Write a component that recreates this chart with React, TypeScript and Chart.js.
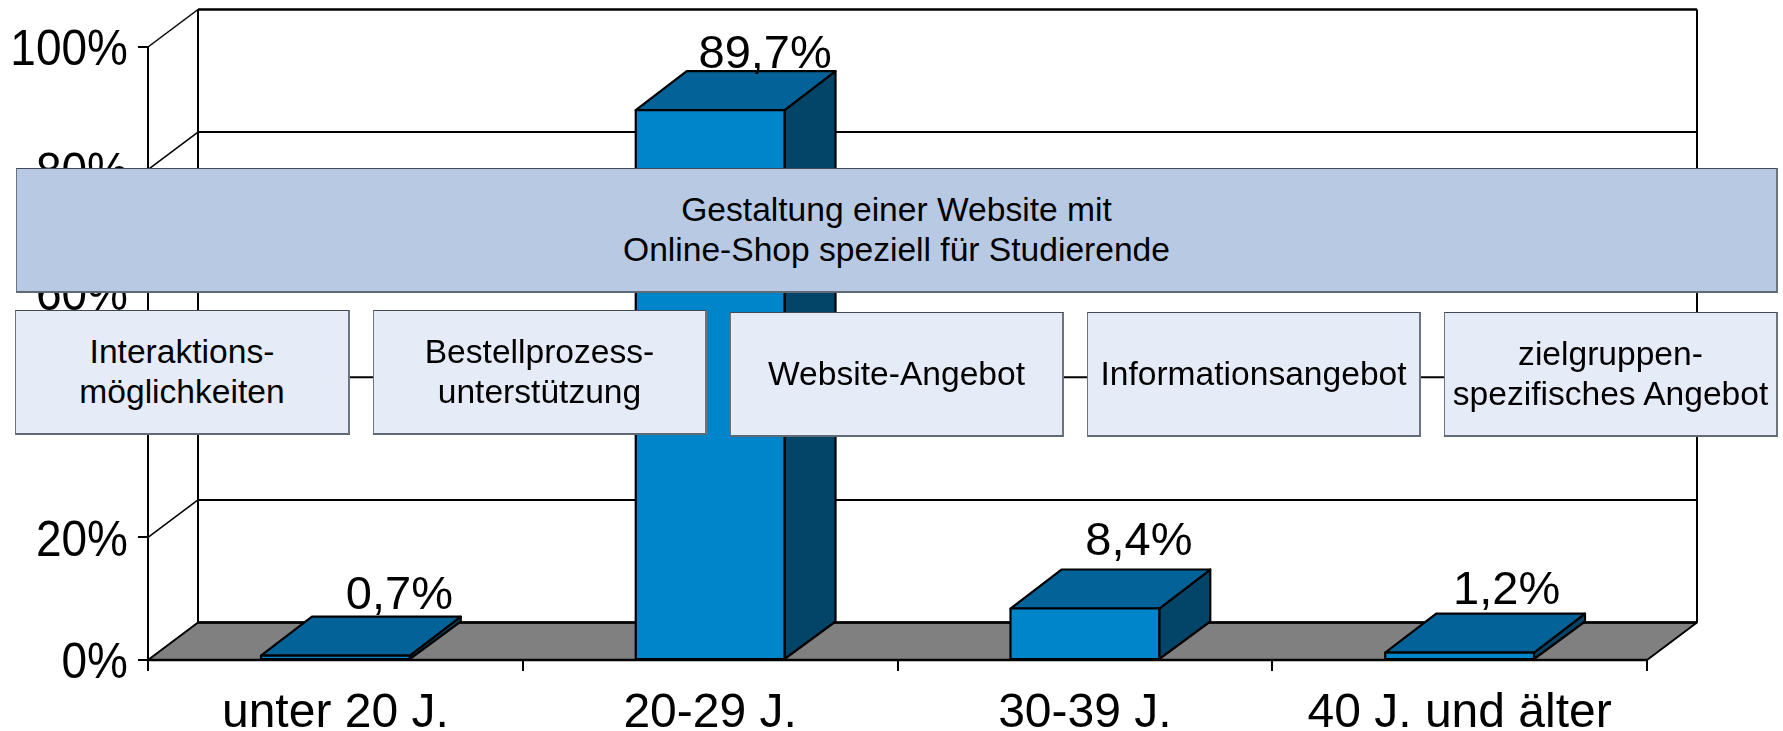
import React, { useEffect, useRef } from "react";
import { Chart, registerables } from "chart.js";

Chart.register(...registerables);

const categories = ["unter 20 J.", "20-29 J.", "30-39 J.", "40 J. und älter"];
const shares = [0.7, 89.7, 8.4, 1.2];
const yTicks = [0, 20, 40, 60, 80, 100];

const FONT = '"Liberation Sans", Arial, sans-serif';
const DEPTH_X = 50;
const DEPTH_Y = 37.5;
const BAR_DEPTH_X = 51;
const BAR_DEPTH_Y = 39;
const labelOffsets = [
  [64, -60],
  [55, -55],
  [54, -66],
  [47, -62],
];

const banner = { text: ["Gestaltung einer Website mit", "Online-Shop speziell für Studierende"], x: 16, y: 168, w: 1762, h: 125 };
const boxes = [
  { text: ["Interaktions-", "möglichkeiten"], x: 15, y: 310, w: 335, h: 125 },
  { text: ["Bestellprozess-", "unterstützung"], x: 373, y: 310, w: 334, h: 125 },
  { text: ["Website-Angebot"], x: 730, y: 312, w: 334, h: 125 },
  { text: ["Informationsangebot"], x: 1087, y: 312, w: 334, h: 125 },
  { text: ["zielgruppen-", "spezifisches Angebot"], x: 1444, y: 312, w: 334, h: 125 },
];

const poly = (ctx: CanvasRenderingContext2D, pts: number[][], fill: string | null, stroke = "#000", lw = 2.2) => {
  ctx.beginPath();
  pts.forEach(([x, y], i) => (i ? ctx.lineTo(x, y) : ctx.moveTo(x, y)));
  ctx.closePath();
  if (fill) {
    ctx.fillStyle = fill;
    ctx.fill();
  }
  ctx.lineWidth = lw;
  ctx.strokeStyle = stroke;
  ctx.lineJoin = "round";
  ctx.stroke();
};

const line = (ctx: CanvasRenderingContext2D, x1: number, y1: number, x2: number, y2: number, lw = 2) => {
  ctx.beginPath();
  ctx.moveTo(x1, y1);
  ctx.lineTo(x2, y2);
  ctx.lineWidth = lw;
  ctx.strokeStyle = "#000";
  ctx.stroke();
};

const walls = {
  id: "walls",
  beforeDatasetsDraw(chart: any) {
    const { ctx, chartArea: a, scales } = chart;
    const y = scales.y;
    ctx.save();
    const bx = a.left + DEPTH_X;
    const rx = a.right + DEPTH_X;
    yTicks.forEach((t) => {
      const py = y.getPixelForValue(t);
      if (t > 0) line(ctx, bx, py - DEPTH_Y, rx, py - DEPTH_Y, t === 100 ? 2.5 : 2);
      if (t > 0) line(ctx, a.left, py, bx, py - DEPTH_Y, 1.5);
    });
    line(ctx, a.left, a.top, a.left, a.bottom, 2);
    line(ctx, bx, a.top - DEPTH_Y, bx, a.bottom - DEPTH_Y, 2);
    line(ctx, rx, a.top - DEPTH_Y, rx, a.bottom - DEPTH_Y, 2);
    poly(ctx, [[a.left, a.bottom], [bx, a.bottom - DEPTH_Y], [rx, a.bottom - DEPTH_Y], [a.right, a.bottom]], "#808080", "#000", 2);
    line(ctx, a.left, a.bottom, a.right, a.bottom, 2.5);
    line(ctx, bx, a.bottom - DEPTH_Y, rx, a.bottom - DEPTH_Y, 2.5);
    ctx.restore();
  },
};

const bars3d = {
  id: "bars3d",
  afterDatasetsDraw(chart: any) {
    const { ctx } = chart;
    const meta = chart.getDatasetMeta(0);
    ctx.save();
    meta.data.forEach((el: any) => {
      const l = el.x - el.width / 2;
      const r = el.x + el.width / 2;
      const t = el.y;
      const b = el.base;
      const dx = BAR_DEPTH_X;
      const dy = BAR_DEPTH_Y;
      poly(ctx, [[r, t], [r + dx, t - dy], [r + dx, b - DEPTH_Y], [r, b]], "#034569");
      poly(ctx, [[l, t], [l + dx, t - dy], [r + dx, t - dy], [r, t]], "#036399");
      poly(ctx, [[l, t], [r, t], [r, b], [l, b]], "#0085CB");
    });
    ctx.restore();
  },
};

const textLabels = {
  id: "textLabels",
  afterDraw(chart: any) {
    const { ctx, scales } = chart;
    const meta = chart.getDatasetMeta(0);
    ctx.save();
    ctx.fillStyle = "#000";
    ctx.textBaseline = "middle";
    ctx.textAlign = "center";
    ctx.font = `47px ${FONT}`;
    meta.data.forEach((el: any, i: number) => {
      const text = shares[i].toFixed(1).replace(".", ",") + "%";
      ctx.fillText(text, el.x + labelOffsets[i][0], el.y + labelOffsets[i][1]);
    });
    ctx.textAlign = "right";
    ctx.font = `46px ${FONT}`;
    scales.y.ticks.forEach((tick: any, i: number) => {
      ctx.save();
      ctx.translate(128, scales.y.getPixelForTick(i) + 4.5);
      ctx.scale(1, 1.08);
      ctx.fillText(tick.label, 0, 0);
      ctx.restore();
    });
    ctx.restore();
  },
};

function Box({ b, fill }: { b: typeof banner; fill: string }) {
  return (
    <div
      style={{
        position: "absolute",
        left: b.x,
        top: b.y,
        width: b.w,
        height: b.h,
        boxSizing: "border-box",
        background: fill,
        borderStyle: "solid",
        borderWidth: "1px 2px 2px 1px",
        borderColor: "#3f4a55 #6b7480 #5f6a75 #6b7480",
        display: "flex",
        flexDirection: "column",
        justifyContent: "center",
        alignItems: "center",
        fontFamily: FONT,
        fontSize: 33.6,
        lineHeight: "40px",
        color: "#000",
        whiteSpace: "nowrap",
      }}
    >
      {b.text.map((t) => (
        <div key={t}>{t}</div>
      ))}
    </div>
  );
}

export default function App() {
  const ref = useRef<HTMLCanvasElement>(null);
  useEffect(() => {
    const chart = new Chart(ref.current!, {
      type: "bar",
      data: {
        labels: categories,
        datasets: [
          {
            data: shares,
            backgroundColor: "#0085CB",
            borderWidth: 0,
            categoryPercentage: 0.397,
            barPercentage: 1,
          },
        ],
      },
      options: {
        animation: false,
        responsive: false,
        layout: { padding: { top: 47, right: 136, bottom: 0, left: 0 } },
        plugins: { legend: { display: false }, tooltip: { enabled: false } },
        scales: {
          x: {
            grid: { drawOnChartArea: false, color: "#000", lineWidth: 2, tickLength: 11 },
            border: { display: false },
            ticks: { color: "#000", font: { family: FONT, size: 48 }, padding: 14, maxRotation: 0 },
            afterFit(s: any) {
              s.height = 71;
            },
          },
          y: {
            min: 0,
            max: 100,
            grid: { drawOnChartArea: false, color: "#000", lineWidth: 2, tickLength: 10 },
            border: { display: false },
            afterFit(s: any) {
              s.width = 148;
            },
            ticks: {
              stepSize: 20,
              color: "rgba(0,0,0,0)",
              padding: 10,
              font: { family: FONT, size: 44 },
              callback: (v: any) => `${v}%`,
            },
          },
        },
      },
      plugins: [walls, bars3d, textLabels],
    } as any);
    return () => chart.destroy();
  }, []);
  return (
    <div style={{ position: "absolute", left: 0, top: 0, width: 1783, height: 731, overflow: "hidden", background: "#fff" }}>
      <canvas ref={ref} width={1783} height={731} style={{ position: "absolute", left: 0, top: 0, display: "block" }} />
      <Box b={banner} fill="#B8C9E3" />
      {boxes.map((b) => (
        <Box key={b.text[0]} b={b} fill="#E6ECF7" />
      ))}
    </div>
  );
}
